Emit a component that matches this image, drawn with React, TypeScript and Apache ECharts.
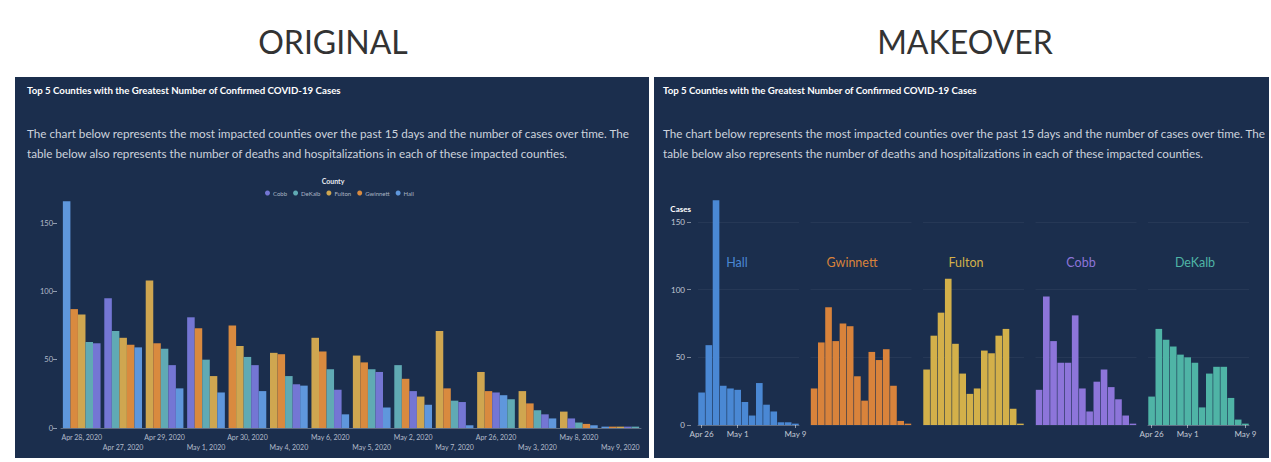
import React, { useEffect, useRef } from 'react';
import * as echarts from 'echarts';

// ---------- data ----------
const DAYS = ['Apr 26', 'Apr 27', 'Apr 28', 'Apr 29', 'Apr 30', 'May 1', 'May 2', 'May 3', 'May 4', 'May 5', 'May 6', 'May 7', 'May 8', 'May 9'];
const YEAR = '2020';
const COUNTIES = ['Hall', 'Gwinnett', 'Fulton', 'Cobb', 'DeKalb'];
const LEGEND_ORDER = ['Cobb', 'DeKalb', 'Fulton', 'Gwinnett', 'Hall'];

const HALL = [24, 59, 166, 29, 27, 26, 17, 7, 31, 15, 10, 2, 2, 1];
const GWINNETT = [27, 61, 87, 62, 75, 73, 36, 18, 54, 48, 56, 29, 3, 1];
const FULTON = [41, 66, 83, 108, 60, 38, 23, 27, 55, 53, 66, 71, 12, 1];
const COBB = [26, 95, 62, 46, 46, 81, 27, 10, 32, 41, 28, 19, 7, 1];
const DEKALB = [21, 71, 63, 58, 52, 50, 46, 13, 38, 43, 43, 20, 4, 1];

const MAKEOVER_TICKS = ['Apr 26', 'May 1', 'May 9'];
const Y_MIN = 0;
const Y_MAX = 150;
const Y_STEP = 50;

const TITLE = 'Top 5 Counties with the Greatest Number of Confirmed COVID-19 Cases';
const DESC_1 = 'The chart below represents the most impacted counties over the past 15 days and the number of cases over time. The';
const DESC_2 = 'table below also represents the number of deaths and hospitalizations in each of these impacted counties.';

// ---------- styles ----------
const FONT = 'Lato, "Open Sans", sans-serif';
const PANEL_BG = '#1b2e4d';
const ORIG_COLORS: Record<string, string> = {
  Hall: '#5f97dc', Gwinnett: '#d98a3f', Fulton: '#cfa650', Cobb: '#7476d4', DeKalb: '#60aab4',
};
const NEW_COLORS: Record<string, string> = {
  Hall: '#4a88d4', Gwinnett: '#d9833b', Fulton: '#d3b04a', Cobb: '#8d75da', DeKalb: '#4fb4a6',
};

export default function App() {
  const ref = useRef<HTMLDivElement>(null);

  useEffect(() => {
    document.body.style.margin = '0';
    document.body.style.background = '#ffffff';
    if (!ref.current) return;
    const chart = echarts.init(ref.current, null, { renderer: 'svg' });

    const VALUES = [HALL, GWINNETT, FULTON, COBB, DEKALB];

    // original chart: days sorted by total, counties sorted within each day
    const groups = DAYS.map((d, i) => {
      const vals = COUNTIES.map((c, k) => ({ county: c, v: VALUES[k][i] }));
      const total = vals.reduce((s, x) => s + x.v, 0);
      const sorted = vals.slice().sort((a, b) => b.v - a.v);
      return { day: d, total, sorted };
    });
    const ordered = groups.slice().sort((a, b) => b.total - a.total);

    const grids: any[] = [{ left: 61, right: 1271 - 641, top: 223, bottom: 34 }];
    const xAxes: any[] = [
      {
        type: 'category', gridIndex: 0,
        data: ordered.map((g) => `${g.day}, ${YEAR}`),
        axisLine: { show: true, lineStyle: { color: 'rgba(255,255,255,0.3)' } },
        axisTick: { show: false },
        axisLabel: {
          interval: 0, fontSize: 7, color: '#b3bccb', fontFamily: FONT, lineHeight: 10, margin: 4,
          formatter: (v: string, i: number) => (i % 2 ? '\n' + v : v),
        },
      },
    ];
    const yAxes: any[] = [
      {
        type: 'value', gridIndex: 0, min: Y_MIN, max: Y_MAX, interval: Y_STEP, offset: 4,
        axisLine: { show: false },
        axisTick: { show: true, length: 4, lineStyle: { color: '#8f9bb0' } },
        splitLine: { show: false },
        axisLabel: { fontSize: 7.5, color: '#b3bccb', fontFamily: FONT, margin: 4 },
      },
    ];
    const series: any[] = [];
    for (let r = 0; r < COUNTIES.length; r++) {
      series.push({
        type: 'bar', name: 'rank' + r, xAxisIndex: 0, yAxisIndex: 0,
        barGap: '0%', barCategoryGap: '9%', clip: false,
        data: ordered.map((g) => ({ value: g.sorted[r].v, itemStyle: { color: ORIG_COLORS[g.sorted[r].county] } })),
      });
    }
    LEGEND_ORDER.forEach((c) => {
      series.push({ type: 'line', name: c, xAxisIndex: 0, yAxisIndex: 0, data: [], itemStyle: { color: ORIG_COLORS[c] } });
    });

    // makeover: small multiples
    COUNTIES.forEach((c, k) => {
      const gi = k + 1;
      const edge = k === 0 || k === COUNTIES.length - 1;
      grids.push({ left: 698 + 112.5 * k, width: 101, top: 222, bottom: 37 });
      xAxes.push({
        type: 'category', gridIndex: gi, data: DAYS,
        axisLine: { show: edge, lineStyle: { color: 'rgba(255,255,255,0.28)' } },
        axisTick: {
          show: edge, alignWithLabel: true, length: 3, lineStyle: { color: 'rgba(255,255,255,0.5)' },
          interval: (i: number, v: string) => MAKEOVER_TICKS.includes(v),
        },
        axisLabel: {
          show: edge, fontSize: 8, color: '#c3cad6', fontFamily: FONT, margin: 5,
          interval: (i: number, v: string) => MAKEOVER_TICKS.includes(v),
        },
      });
      yAxes.push({
        type: 'value', gridIndex: gi, min: Y_MIN, max: Y_MAX, interval: Y_STEP, offset: k === 0 ? 7 : 0,
        name: k === 0 ? 'Cases' : '', nameLocation: 'end', nameGap: 9,
        nameTextStyle: { color: '#ffffff', fontWeight: 'bold', fontSize: 8, fontFamily: FONT, align: 'right' },
        axisLine: { show: false },
        axisTick: { show: k === 0, length: 4, lineStyle: { color: 'rgba(255,255,255,0.45)' } },
        axisLabel: { show: k === 0, fontSize: 8, color: '#c3cad6', fontFamily: FONT, margin: 6 },
        splitLine: { show: true, lineStyle: { color: 'rgba(255,255,255,0.05)' } },
      });
      series.push({
        type: 'bar', name: 'makeover-' + c, xAxisIndex: gi, yAxisIndex: gi,
        data: VALUES[k], barCategoryGap: '8%', clip: false,
        itemStyle: { color: NEW_COLORS[c] },
      });
    });

    const labelX = [737, 852, 966, 1081, 1195];
    const text = (x: number, y: number, t: string, size: number, color: string, weight: string = 'normal', align: string = 'left') => ({
      type: 'text', x, y, z: 1,
      style: { text: t, fill: color, fontSize: size, fontWeight: weight, fontFamily: FONT, align, verticalAlign: 'middle' },
    });

    const graphic: any[] = [
      { type: 'rect', z: -10, shape: { x: 15, y: 77, width: 634, height: 381 }, style: { fill: PANEL_BG } },
      { type: 'rect', z: -10, shape: { x: 654, y: 77, width: 615, height: 381 }, style: { fill: PANEL_BG } },
      text(333, 41, 'ORIGINAL', 32, '#333333', 'normal', 'center'),
      text(965, 41, 'MAKEOVER', 32, '#333333', 'normal', 'center'),
      text(27, 90, TITLE, 9.7, '#ffffff', 'bold'),
      text(27, 133, DESC_1, 11.7, '#cdd3dd'),
      text(27, 153, DESC_2, 11.7, '#cdd3dd'),
      text(663, 90, TITLE, 9.7, '#ffffff', 'bold'),
      text(663, 133, DESC_1, 11.7, '#cdd3dd'),
      text(663, 153, DESC_2, 11.7, '#cdd3dd'),
      text(333, 181, 'County', 7, '#e6e9ef', 'bold', 'center'),
      ...COUNTIES.map((c, k) => text(labelX[k], 262, c, 12.5, NEW_COLORS[c], 'normal', 'center')),
    ];

    chart.setOption({
      animation: false,
      backgroundColor: '#ffffff',
      textStyle: { fontFamily: FONT },
      grid: grids,
      xAxis: xAxes,
      yAxis: yAxes,
      series,
      legend: {
        data: LEGEND_ORDER.map((c) => ({ name: c, itemStyle: { color: ORIG_COLORS[c] } })),
        left: 260, top: 185, icon: 'circle', itemWidth: 5, itemHeight: 5, itemGap: 6,
        selectedMode: false,
        textStyle: { fontSize: 6, color: '#aab4c3', fontFamily: FONT, padding: [0, 0, 0, -2] },
      },
      graphic,
    });

    return () => chart.dispose();
  }, []);

  return <div ref={ref} style={{ width: 1271, height: 462 }} />;
}
